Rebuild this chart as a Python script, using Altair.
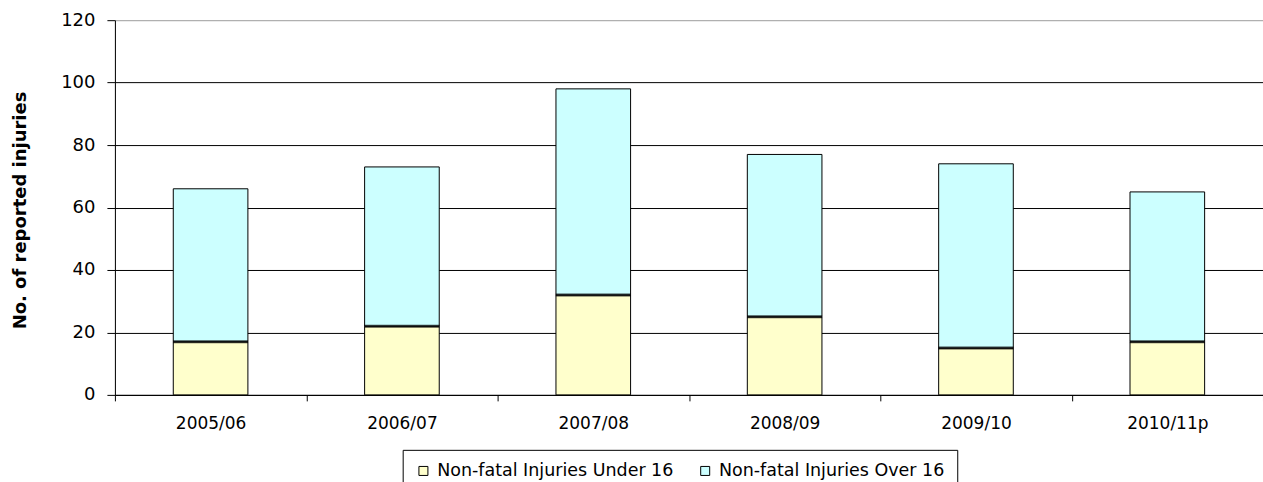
import altair as alt
import pandas as pd

# Reported non-fatal injuries per year, split by age group
years = ["2005/06", "2006/07", "2007/08", "2008/09", "2009/10", "2010/11p"]
under_16 = [17, 22, 32, 25, 15, 17]
over_16 = [49, 51, 66, 52, 59, 48]

series_names = ["Non-fatal Injuries Under 16", "Non-fatal Injuries Over 16"]
series_colors = ["#FFFFCC", "#CCFFFF"]
y_ticks = [0, 20, 40, 60, 80, 100, 120]

FONT = "DejaVu Sans"

rows = []
for i, yr in enumerate(years):
    rows.append({"year": yr, "series": series_names[0], "value": under_16[i], "rank": 0})
    rows.append({"year": yr, "series": series_names[1], "value": over_16[i], "rank": 1})
long_df = pd.DataFrame(rows)
under_df = pd.DataFrame({"year": years, "under": under_16})

x_enc = alt.X(
    "year:N",
    sort=years,
    scale=alt.Scale(paddingInner=0, paddingOuter=0),
    axis=alt.Axis(
        title=None,
        labelAngle=0,
        tickBand="extent",
        ticks=True,
        tickSize=6,
        tickColor="black",
        domainColor="black",
        labelPadding=15,
        labelFont=FONT,
        labelFontSize=17,
        labelColor="black",
        grid=False,
    ),
)

bars = alt.Chart(long_df).mark_bar(
    width=alt.RelativeBandSize(0.39), stroke="black", strokeWidth=1
).encode(
    x=x_enc,
    y=alt.Y(
        "value:Q",
        stack="zero",
        scale=alt.Scale(domain=[0, 120], nice=False),
        axis=alt.Axis(
            values=y_ticks,
            title="No. of reported injuries",
            titleFont=FONT,
            titleFontSize=18,
            titleFontWeight="bold",
            titleColor="black",
            titleBaseline="alphabetic",
            titleX=-89,
            titleY=190,
            grid=True,
            gridColor={"condition": {"test": "datum.value === 120", "value": "#a6a6a6"}, "value": "#000000"},
            gridWidth=1,
            tickColor="black",
            tickSize=8,
            domainColor="black",
            labelPadding=12,
            labelFont=FONT,
            labelFontSize=18,
            labelColor="black",
        ),
    ),
    color=alt.Color(
        "series:N",
        scale=alt.Scale(domain=series_names, range=series_colors),
        legend=alt.Legend(
            title=None,
            orient="none",
            legendX=288,
            legendY=430,
            direction="horizontal",
            strokeColor="black",
            fillColor="white",
            padding=12,
            symbolType="square",
            symbolSize=81,
            symbolStrokeColor="black",
            symbolStrokeWidth=1,
            symbolOpacity=1,
            labelFont=FONT,
            labelFontSize=17.5,
            labelColor="black",
            labelOffset=5,
            labelLimit=400,
            columnPadding=22,
        ),
    ),
    order=alt.Order("rank:Q"),
)

# heavy divider where the two stacked segments meet
divider = alt.Chart(under_df).mark_tick(size=75, thickness=3, color="black").encode(
    x=alt.X("year:N", sort=years),
    y=alt.Y("under:Q"),
)

chart = alt.layer(bars, divider).properties(
    width=1149,
    height=375,
    autosize=alt.AutoSizeParams(type="none"),
    padding={"left": 115, "top": 20, "right": 0, "bottom": 87},
).configure_view(strokeWidth=0).configure(background="white")

chart.save("out.html", embed_options={"renderer": "svg", "actions": False})
